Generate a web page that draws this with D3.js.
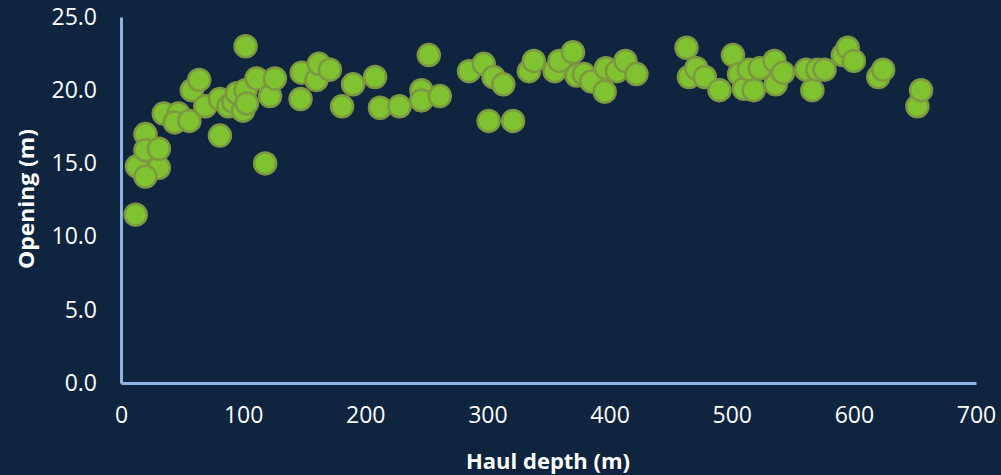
<!DOCTYPE html>
<html>
<head>
<meta charset="utf-8">
<script src="https://cdn.jsdelivr.net/npm/d3@7"></script>
<style>
  html, body { margin: 0; padding: 0; background: #0f243e; }
  svg { display: block; }
</style>
</head>
<body>
<svg id="chart" width="1001" height="475"></svg>
<script>
// Haul depth (m) for each tow
const depth = [12, 13, 31, 20, 20, 20, 31, 35, 47, 44, 56, 58, 64, 69, 81, 81, 88, 92, 95, 100,
  102, 102, 103, 111, 118, 122, 126, 147, 148, 160, 162, 171, 181, 190, 208, 212, 228, 246, 246, 252,
  261, 285, 297, 301, 305, 313, 321, 334, 338, 355, 359, 370, 373, 379, 385, 396, 397, 406, 413, 422,
  463, 465, 471, 478, 490, 501, 506, 510, 514, 518, 523, 535, 536, 542, 561, 566, 570, 576, 591, 595,
  600, 620, 624, 652, 655];
// Net opening (m) for each tow
const opening = [11.5, 14.8, 14.7, 14.1, 17.0, 15.9, 16.0, 18.4, 18.4, 17.8, 17.9, 20.0, 20.7, 18.9, 16.9, 19.4, 18.9, 19.2, 19.8, 18.6,
  20.0, 23.0, 19.1, 20.8, 15.0, 19.6, 20.8, 19.4, 21.2, 20.7, 21.8, 21.4, 18.9, 20.4, 20.9, 18.8, 18.9, 20.0, 19.3, 22.4,
  19.6, 21.3, 21.8, 17.9, 20.9, 20.4, 17.9, 21.3, 22.0, 21.3, 22.0, 22.6, 21.0, 21.1, 20.6, 19.9, 21.5, 21.3, 22.0, 21.1,
  22.9, 20.9, 21.5, 20.9, 20.0, 22.4, 21.1, 20.1, 21.4, 20.0, 21.5, 22.0, 20.4, 21.2, 21.4, 20.0, 21.4, 21.4, 22.4, 22.9,
  22.0, 20.9, 21.4, 18.9, 20.0];
const xTicks = [0, 100, 200, 300, 400, 500, 600, 700];
const yTicks = [0, 5, 10, 15, 20, 25];
const xTitle = "Haul depth (m)";
const yTitle = "Opening (m)";

const svg = d3.select("#chart");
const W = 1001, H = 475;
svg.append("rect").attr("width", W).attr("height", H).attr("fill", "#0f243e");

const x = d3.scaleLinear().domain([0, 700]).range([121, 976]);
const y = d3.scaleLinear().domain([0, 25]).range([383, 17]);

const font = "'Open Sans', sans-serif";

// x axis
const xAxis = svg.append("g").attr("transform", `translate(0,${y(0)})`)
  .call(d3.axisBottom(x).tickValues(xTicks).tickSize(0).tickPadding(25).tickFormat(d3.format("d")));
xAxis.select(".domain").attr("stroke", "#8db3e2").attr("stroke-width", 3);
xAxis.selectAll("text").attr("fill", "#ffffff").attr("font-family", font).attr("font-size", 23)
  .attr("dy", "0.65em");

// y axis
const yAxis = svg.append("g").attr("transform", `translate(${x(0)},0)`)
  .call(d3.axisLeft(y).tickValues(yTicks).tickSize(0).tickPadding(24).tickFormat(d3.format(".1f")));
yAxis.select(".domain").attr("stroke", "#8db3e2").attr("stroke-width", 3);
yAxis.selectAll("text").attr("fill", "#ffffff").attr("font-family", font).attr("font-size", 23);

// axis titles
svg.append("text").attr("x", 548).attr("y", 469)
  .attr("text-anchor", "middle").attr("fill", "#ffffff")
  .attr("font-family", font).attr("font-weight", "bold").attr("font-size", 21)
  .attr("textLength", 164).attr("lengthAdjust", "spacingAndGlyphs")
  .text(xTitle);
svg.append("text").attr("transform", "translate(34,199) rotate(-90)")
  .attr("text-anchor", "middle").attr("fill", "#ffffff")
  .attr("font-family", font).attr("font-weight", "bold").attr("font-size", 21)
  .attr("textLength", 140).attr("lengthAdjust", "spacingAndGlyphs")
  .text(yTitle);

// points
const pts = depth.map((d, i) => ({ d, o: opening[i] }));
svg.append("g").selectAll("circle").data(pts).join("circle")
  .attr("cx", p => x(p.d)).attr("cy", p => y(p.o)).attr("r", 11)
  .attr("fill", "#80c331").attr("stroke", "#7c9841").attr("stroke-width", 2.5);
</script>
</body>
</html>
